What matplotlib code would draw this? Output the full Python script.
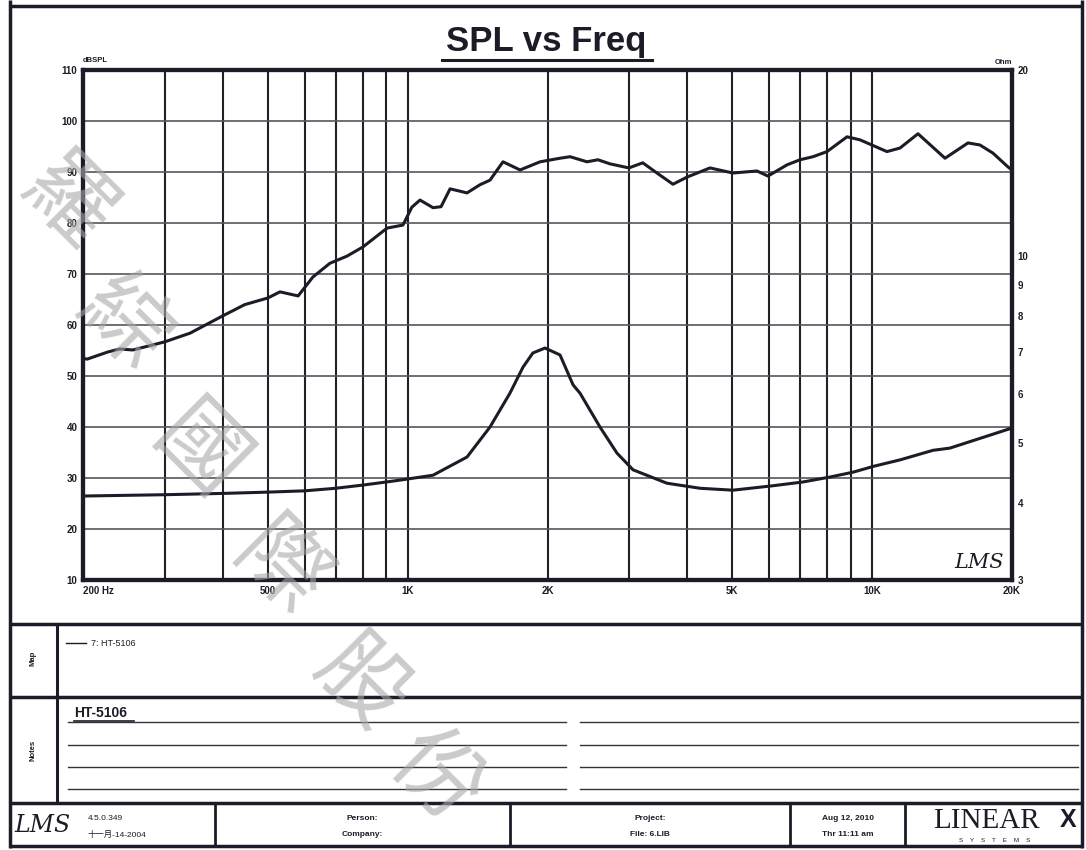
import numpy as np
import matplotlib.pyplot as plt
from matplotlib.ticker import NullLocator

plt.rcParams['font.family'] = ['Liberation Sans', 'Noto Sans CJK TC', 'DejaVu Sans']

# SPL curve (Hz, dB)
spl_freq = [200, 204, 226, 240, 256, 300, 340, 400, 446, 500, 531, 581, 625, 680,
            740, 801, 903, 977, 1021, 1063, 1134, 1180, 1234, 1342, 1431, 1504,
            1604, 1746, 1928, 2128, 2237, 2432, 2568, 2726, 2994, 3207, 3441, 3725,
            3993, 4476, 5014, 5648, 5966, 6556, 6994, 7458, 7994, 8828, 9418,
            10760, 11480, 12550, 14350, 16080, 17060, 18200, 19600, 20000]
spl_db = [53.5, 53.3, 54.7, 55.3, 55.1, 56.7, 58.4, 61.8, 64.0, 65.3, 66.5, 65.7, 69.4, 72.1,
          73.5, 75.3, 79.0, 79.6, 83.1, 84.5, 83.0, 83.2, 86.7, 85.9, 87.5, 88.4,
          92.0, 90.4, 92.0, 92.7, 93.0, 92.0, 92.4, 91.6, 90.8, 91.8, 89.8, 87.6,
          89.0, 90.8, 89.8, 90.2, 89.2, 91.4, 92.4, 93.0, 94.0, 96.9, 96.3,
          94.0, 94.7, 97.5, 92.7, 95.7, 95.3, 93.7, 91.0, 90.4]

# impedance curve (Hz, Ohm)
imp_freq = [200, 300, 400, 500, 600, 700, 800, 900, 963, 1134, 1342, 1504, 1660, 1771,
            1860, 1975, 2128, 2270, 2350, 2594, 2822, 3056, 3615, 4260, 5014, 6118,
            7096, 8112, 9093, 10080, 11480, 13520, 14700, 20000]
imp_ohm = [4.10, 4.12, 4.14, 4.16, 4.18, 4.22, 4.27, 4.32, 4.35, 4.43, 4.74, 5.30, 6.01, 6.62,
           6.98, 7.11, 6.93, 6.20, 6.01, 5.30, 4.81, 4.52, 4.30, 4.22, 4.19, 4.26,
           4.32, 4.40, 4.48, 4.58, 4.69, 4.86, 4.90, 5.28]

x_ticks = [200, 500, 1000, 2000, 5000, 10000, 20000]
x_labels = ['200 Hz', '500', '1K', '2K', '5K', '10K', '20K']
x_grid = [300, 400, 500, 600, 700, 800, 900, 1000,
          2000, 3000, 4000, 5000, 6000, 7000, 8000, 9000, 10000]
db_ticks = list(range(10, 111, 10))
ohm_ticks = [3, 4, 5, 6, 7, 8, 9, 10, 20]

W, H = 1086, 850
ink = '#1c1c28'
fig = plt.figure(figsize=(W / 100, H / 100), dpi=100)
fig.patch.set_facecolor('white')

# overlay in pixel coordinates for the frame / text boxes
ov = fig.add_axes([0, 0, 1, 1], zorder=0)
ov.set_xlim(0, W)
ov.set_ylim(H, 0)
ov.axis('off')

def hline(y, x0=10, x1=1082, lw=2.2, c=ink):
    ov.plot([x0, x1], [y, y], color=c, lw=lw, solid_capstyle='butt')

def vline(x, y0, y1, lw=2.2, c=ink):
    ov.plot([x, x], [y0, y1], color=c, lw=lw, solid_capstyle='butt')

# outer frame
hline(6, lw=2.5)
vline(10, 0, 848, lw=2.5)
vline(1082, 0, 848, lw=2.5)
hline(624, lw=2.5)
hline(697, lw=2.5)
hline(803, lw=2.5)
hline(846, lw=2.5)
vline(57, 624, 803, lw=2.2)
for xd in [215, 510, 790, 905]:
    vline(xd, 803, 846, lw=2.0)

# title
ov.text(546, 41, 'SPL vs Freq', fontsize=25, weight='bold', ha='center', va='center', color=ink)
ov.plot([442, 652], [60, 60], color=ink, lw=2.2)

# map / notes sections
ov.text(33, 658, 'Map', rotation=90, fontsize=5.5, weight='bold', ha='center', va='center', color=ink)
ov.text(33, 750, 'Notes', rotation=90, fontsize=5.5, weight='bold', ha='center', va='center', color=ink)
ov.plot([66, 86], [643, 643], color=ink, lw=1.0)
ov.text(91, 643, '7: HT-5106', fontsize=6.5, ha='left', va='center', color=ink)
ov.text(74, 713, 'HT-5106', fontsize=10, weight='bold', ha='left', va='center', color=ink)
ov.plot([74, 134], [721, 721], color=ink, lw=1.2)
for yl in [722, 745, 767, 789]:
    ov.plot([68, 566], [yl, yl], color='#333340', lw=1.0)
    ov.plot([580, 1078], [yl, yl], color='#333340', lw=1.0)

# bottom strip
ov.text(42, 826, 'LMS', fontsize=17, style='italic', family='DejaVu Serif', ha='center', va='center', color=ink)
ov.text(88, 818, '4.5.0.349', fontsize=6, ha='left', va='center', color=ink)
ov.text(88, 835, '十一月-14-2004', fontsize=6, ha='left', va='center', color=ink)
ov.text(362, 818, 'Person:', fontsize=6, weight='bold', ha='center', va='center', color=ink)
ov.text(362, 834, 'Company:', fontsize=6, weight='bold', ha='center', va='center', color=ink)
ov.text(650, 818, 'Project:', fontsize=6, weight='bold', ha='center', va='center', color=ink)
ov.text(650, 834, 'File: 6.LIB', fontsize=6, weight='bold', ha='center', va='center', color=ink)
ov.text(848, 818, 'Aug 12, 2010', fontsize=6, weight='bold', ha='center', va='center', color=ink)
ov.text(848, 834, 'Thr 11:11 am', fontsize=6, weight='bold', ha='center', va='center', color=ink)
ov.text(987, 821, 'LINEAR', fontsize=21, family='Liberation Serif', ha='center', va='center', color=ink)
ov.text(1068, 820, 'X', fontsize=18, weight='bold', ha='center', va='center', color=ink)
ov.text(995, 840, 'S    Y    S    T    E    M    S', fontsize=4.5, ha='center', va='center', color=ink)

# main chart
ax = fig.add_axes([83 / W, 1 - 580 / H, 929 / W, 510 / H], zorder=1)
ax.set_xscale('log')
ax.set_xlim(200, 20000)
ax.set_ylim(10, 110)
for xg in x_grid:
    ax.axvline(xg, color='#202028', lw=1.5, zorder=1)
for yg in db_ticks[1:-1]:
    ax.axhline(yg, color='#55555c', lw=1.2, zorder=1)
ax.set_xticks(x_ticks)
ax.set_xticklabels(x_labels)
ax.xaxis.set_minor_locator(NullLocator())
ax.set_yticks(db_ticks)
ax.set_yticklabels([str(v) for v in db_ticks])
ax.tick_params(length=0, labelsize=7, pad=4, colors=ink)
for lab in ax.get_xticklabels() + ax.get_yticklabels():
    lab.set_fontweight('bold')
ax.get_xticklabels()[0].set_horizontalalignment('left')
for sp in ax.spines.values():
    sp.set_linewidth(3.0)
    sp.set_color(ink)
ax.plot(spl_freq, spl_db, color=ink, lw=2.2, zorder=3)
ax.text(0.0, 1.012, 'dBSPL', transform=ax.transAxes, fontsize=5.5, weight='bold',
        ha='left', va='bottom', color=ink)
ax.text(1.0, 1.008, 'Ohm', transform=ax.transAxes, fontsize=5.5, weight='bold',
        ha='right', va='bottom', color=ink)
ax.text(0.965, 0.035, 'LMS', transform=ax.transAxes, fontsize=15, style='italic',
        family='DejaVu Serif', ha='center', va='center', color=ink)

ax2 = ax.twinx()
ax2.set_yscale('log')
ax2.set_ylim(3, 20)
ax2.set_yticks(ohm_ticks)
ax2.set_yticklabels([str(v) for v in ohm_ticks])
ax2.yaxis.set_minor_locator(NullLocator())
ax2.tick_params(length=0, labelsize=7, pad=4, colors=ink)
for lab in ax2.get_yticklabels():
    lab.set_fontweight('bold')
for sp in ax2.spines.values():
    sp.set_linewidth(3.0)
    sp.set_color(ink)
ax2.plot(imp_freq, imp_ohm, color=ink, lw=2.2, zorder=3)

# diagonal watermark
wm_chars = ['羅', '綜', '國', '際', '股', '份']
wm_x = [66, 122, 198, 278, 360, 436]
wm_y = [205, 325, 455, 570, 685, 778]
for ch, cx, cy in zip(wm_chars, wm_x, wm_y):
    fig.text(cx / W, 1 - cy / H, ch, fontsize=64, family='Noto Sans CJK TC',
             rotation=-45, color='#a8a8a8', alpha=0.6, ha='center', va='center', zorder=10)

fig.savefig('out.png', dpi=100, facecolor='white')
